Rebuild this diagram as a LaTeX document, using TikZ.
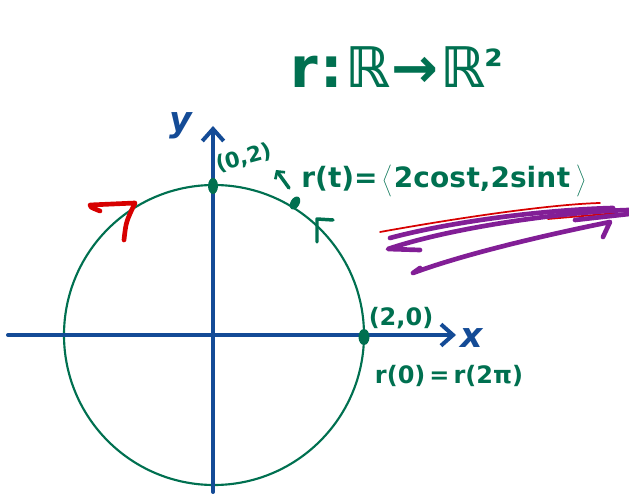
\documentclass[tikz,border=0pt]{standalone}
\usepackage{fontspec}
\setmainfont{DejaVu Sans}
\usetikzlibrary{arrows.meta}
\definecolor{pgreen}{RGB}{0,112,80}
\definecolor{pblue}{RGB}{20,75,150}
\definecolor{pred}{RGB}{215,0,0}
\definecolor{ppurple}{RGB}{130,30,150}
\tikzset{
  axisline/.style={pblue, line width=3pt, line cap=round, -{Straight Barb[length=9pt,width=16pt,line width=3pt]}},
  curve/.style={pgreen, line width=1.6pt},
  gtext/.style={pgreen, inner sep=0pt},
  axlabel/.style={pblue, inner sep=0pt, font=\bfseries\itshape\fontsize{26}{26}\selectfont},
  redscrib/.style={pred, line width=1.3pt, line cap=round, line join=round},
  redthick/.style={pred, line width=3.5pt, line cap=round, line join=round},
  purscrib/.style={ppurple, line width=3.5pt, line cap=round, line join=round},
  gtick/.style={pgreen, line width=2.6pt, line cap=round, line join=round}
}
\begin{document}
\begin{tikzpicture}[x=0.75pt,y=-0.75pt]
\useasboundingbox (0,0) rectangle (629,495);
% circle
\coordinate (C) at (214,335);
\draw[curve] (C) circle[radius=150];
% axes
\coordinate (xs) at (8,335);
\coordinate (xe) at (456,335);
\coordinate (ys) at (213,492);
\coordinate (ye) at (213,126);
\draw[axisline] (xs) -- (xe);
\draw[axisline] (ys) -- (ye);
\node[axlabel] (xl) at (472,338) {x};
\node[axlabel] (yl) at (181,126) {y};
% dots
\fill[pgreen] (213,186) ellipse[x radius=5, y radius=8];
\fill[pgreen, rotate around={-30:(295,203)}] (295,203) ellipse[x radius=4.5, y radius=7];
\fill[pgreen] (364,337) ellipse[x radius=5.5, y radius=8];
\coordinate (p) at (289,188);
\coordinate (pt) at (276,170);
% labels
\node[gtext, rotate=15, font=\bfseries\fontsize{16}{16}\selectfont] (l02) at (244,158) {(0,2)};
\node[gtext, font=\bfseries] (title) at (397,67) {\fontsize{42}{42}\selectfont r\kern2pt:\kern2pt ℝ\kern1pt→\kern1pt ℝ\raisebox{5pt}{\fontsize{32}{32}\selectfont ²}};
\node[gtext, font=\bfseries\fontsize{21}{21}\selectfont] (rt) at (444,181) {r(t)=\,$\left\langle\vphantom{X^2}\right.$2cos\kern0.5pt t,2sin\kern0.5pt t\,$\left.\vphantom{X^2}\right\rangle$};
\draw[gtick, -{Straight Barb[length=4pt,width=9pt,line width=2pt]}] (p) -- (pt);
\node[gtext, font=\bfseries\fontsize{18}{18}\selectfont] (l20) at (401,318) {(2,0)};
\node[gtext, font=\bfseries\fontsize{18}{18}\selectfont] (r0) at (449,376) {r(0)\,=\,r(2π)};
% green arrowhead on circle
\draw[gtick] (317,242) -- (317,219) -- (333,220);
% red arrowhead
\draw[redthick] (100,211) .. controls (90,207) .. (90,205) -- (135,203) .. controls (126,222) .. (124,240);
% scribbles
\draw[redscrib] (380,232) .. controls (480,214) and (560,204) .. (600,203);
\draw[redscrib] (548,219) -- (617,213);
\draw[purscrib] (390,238) .. controls (450,222) and (540,210) .. (613,208);
\draw[purscrib] (629,210) .. controls (560,212) and (450,228) .. (388,249) -- (420,250);
\draw[purscrib] (629,214) -- (575,220);
\draw[purscrib] (420,268) -- (413,273) .. controls (470,252) and (560,232) .. (610,222) -- (603,237);
\end{tikzpicture}
\end{document}
